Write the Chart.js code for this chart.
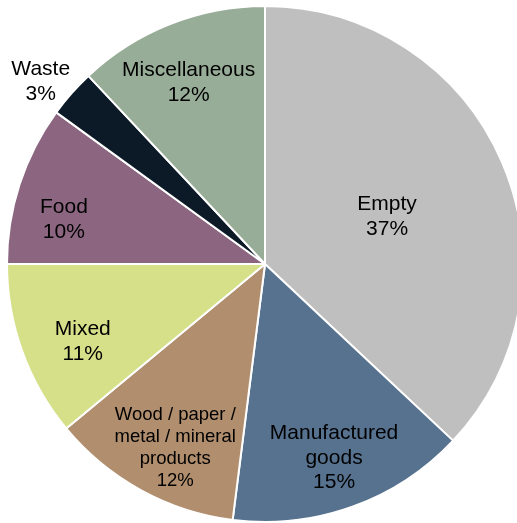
<!DOCTYPE html>
<html>
<head>
<meta charset="utf-8">
<script src="https://cdn.jsdelivr.net/npm/chart.js@4.4.0/dist/chart.umd.min.js"></script>
<style>
  html, body { margin: 0; padding: 0; background: #fff; overflow: hidden; }
  #wrap { position: absolute; left: 0; top: 0; width: 530px; height: 530px; }
</style>
</head>
<body>
<div id="wrap"><canvas id="pieChart" width="530" height="530"></canvas></div>
<script>
const categorias = ['Empty', 'Manufactured goods', 'Wood / paper / metal / mineral products', 'Mixed', 'Food', 'Waste', 'Miscellaneous'];
const valores = [37, 15, 12, 11, 10, 3, 12];
const linhasRotulo = [
    ['Empty'],
    ['Manufactured', 'goods'],
    ['Wood / paper /', 'metal / mineral', 'products'],
    ['Mixed'],
    ['Food'],
    ['Waste'],
    ['Miscellaneous']
];
const cores = ['#bfbfbf', '#56728f', '#b08e6e', '#d5e089', '#8c6681', '#0c1a28', '#98ad98'];

// distancia do rotulo ao centro (fração do raio), desvio de ângulo e fonte
const raioRotulo = [0.51, 0.79, 0.785, 0.765, 0.80, 1.125, 0.77];
const desvioAngulo = [1.5, 0, -2.5, -2.8, -5, -2, -1];
const tamanhoFonte = [21, 21, 18.5, 21, 21, 21, 21];
const alturaLinha = [25.5, 24.5, 22, 25, 25, 25, 25];

const rotulosPlugin = {
    id: 'rotulos',
    afterDatasetsDraw(chart) {
        const ctx = chart.ctx;
        const meta = chart.getDatasetMeta(0);
        meta.data.forEach((arc, i) => {
            const p = arc.getProps(['x', 'y', 'startAngle', 'endAngle', 'outerRadius'], true);
            const meio = (p.startAngle + p.endAngle) / 2 + desvioAngulo[i] * Math.PI / 180;
            const r = p.outerRadius * raioRotulo[i];
            const x = p.x + Math.cos(meio) * r;
            const y = p.y + Math.sin(meio) * r + 2;
            const linhas = linhasRotulo[i].concat([valores[i] + '%']);
            const lh = alturaLinha[i];
            ctx.save();
            ctx.font = tamanhoFonte[i] + 'px "Liberation Sans", Arial, sans-serif';
            ctx.fillStyle = '#000';
            ctx.textAlign = 'center';
            ctx.textBaseline = 'middle';
            const topo = y - (linhas.length - 1) * lh / 2;
            linhas.forEach((t, k) => ctx.fillText(t, x, topo + k * lh));
            ctx.restore();
        });
    }
};

new Chart(document.getElementById('pieChart').getContext('2d'), {
    type: 'pie',
    data: {
        labels: categorias,
        datasets: [{
            data: valores,
            backgroundColor: cores,
            borderColor: '#ffffff',
            borderWidth: 2
        }]
    },
    options: {
        responsive: false,
        animation: false,
        layout: { padding: { top: 5, left: 6, right: 6, bottom: 7 } },
        plugins: {
            legend: { display: false },
            tooltip: { enabled: false }
        }
    },
    plugins: [rotulosPlugin]
});
</script>
</body>
</html>
